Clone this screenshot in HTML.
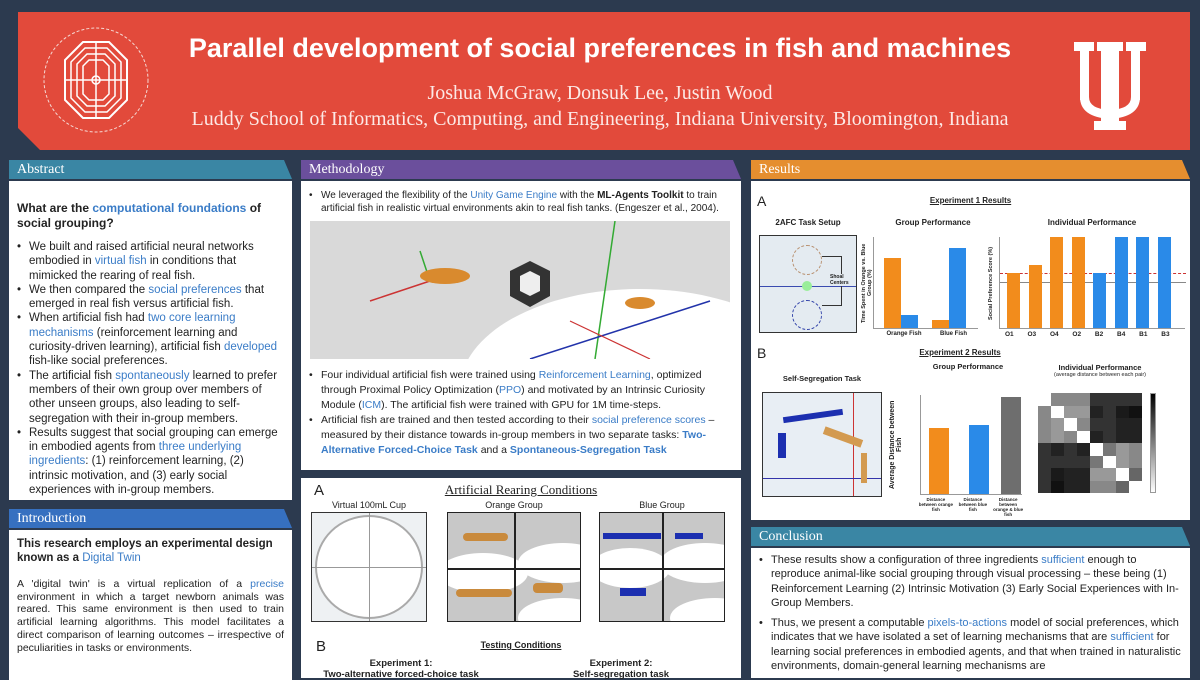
<!DOCTYPE html>
<html><head><meta charset="utf-8">
<style>
*{margin:0;padding:0;box-sizing:border-box}
body{width:1200px;height:675px;overflow:hidden;background:#2c3a4f;font-family:"Liberation Sans",sans-serif;position:relative;color:#222}
.abs{position:absolute}
.hdr{position:absolute;height:19px;color:#fff;font-family:"Liberation Serif",serif;font-size:14px;line-height:19px;padding-left:8px;clip-path:polygon(0 0,calc(100% - 8px) 0,100% 100%,0 100%)}
.box{position:absolute;background:#fff}
.bl{color:#3a7cc7}
ul{list-style:none}
li{position:relative;padding-left:12px}
li:before{content:"•";position:absolute;left:0}
.t{font-size:11.5px;line-height:14.3px}
.bar{position:absolute;bottom:0}
.lbl{position:absolute;font-size:8px;font-weight:bold;text-align:center}
</style></head><body>

<!-- header -->
<div class="abs" style="left:18px;top:12px;width:1172px;height:138px;background:#e24a3b;clip-path:polygon(0 0,100% 0,100% 100%,22px 100%,0 116px)"></div>
<svg class="abs" style="left:38px;top:22px" width="116" height="116" viewBox="0 0 116 116">
<circle cx="58" cy="58" r="52" fill="none" stroke="#f5d9d4" stroke-width="1" stroke-dasharray="3 2"/>
<polygon points="45,20 71,20 89,38 89,78 71,96 45,96 27,78 27,38" fill="none" stroke="#fff" stroke-width="2"/>
<polygon points="47,26 69,26 83,40 83,76 69,90 47,90 33,76 33,40" fill="none" stroke="#fff" stroke-width="1.5"/>
<polygon points="49,32 67,32 77,42 77,74 67,84 49,84 39,74 39,42" fill="none" stroke="#fff" stroke-width="1.5"/>
<polygon points="51,38 65,38 71,44 71,72 65,78 51,78 45,72 45,44" fill="none" stroke="#fff" stroke-width="1.5"/>
<circle cx="58" cy="58" r="4" fill="none" stroke="#fff" stroke-width="1.5"/>
<line x1="58" y1="20" x2="58" y2="96" stroke="#fff" stroke-width="1.5"/>
<line x1="27" y1="58" x2="89" y2="58" stroke="#fff" stroke-width="1.5"/>
</svg>
<div class="abs" style="left:160px;top:33px;width:880px;text-align:center;color:#fff;font-size:27px;font-weight:bold">Parallel development of social preferences in fish and machines</div>
<div class="abs" style="left:160px;top:82px;width:880px;text-align:center;color:#fce9e6;font-family:'Liberation Serif',serif;font-size:20px">Joshua McGraw, Donsuk Lee, Justin Wood</div>
<div class="abs" style="left:150px;top:108px;width:900px;text-align:center;color:#fce9e6;font-family:'Liberation Serif',serif;font-size:20px">Luddy School of Informatics, Computing, and Engineering, Indiana University, Bloomington, Indiana</div>
<svg class="abs" style="left:1072px;top:42px" width="76" height="88" viewBox="0 0 76 88">
<g fill="#fff">
<rect x="2" y="0" width="20" height="9"/><rect x="54" y="0" width="20" height="9"/><rect x="25" y="0" width="26" height="9"/>
<rect x="8" y="0" width="9" height="58"/><rect x="59" y="0" width="9" height="58"/><rect x="29" y="0" width="18" height="88"/>
<path d="M8 55q0 20 30 22q30-2 30-22h-9q0 12-21 13q-21-1-21-13z"/>
<rect x="22" y="79" width="32" height="9"/>
</g></svg>

<!-- Abstract -->
<div class="hdr" style="left:9px;top:160px;width:283px;background:#3a86a4">Abstract</div>
<div class="box" style="left:9px;top:181px;width:283px;height:319px;padding:20px 8px 0 8px">
<div style="font-weight:bold;font-size:12px;line-height:15px">What are the <span class="bl">computational foundations</span> of social grouping?</div>
<ul class="t" style="margin-top:9px">
<li>We built and raised artificial neural networks embodied in <span class="bl">virtual fish</span> in conditions that mimicked the rearing of real fish.</li>
<li>We then compared the <span class="bl">social preferences</span> that emerged in real fish versus artificial fish.</li>
<li>When artificial fish had <span class="bl">two core learning mechanisms</span> (reinforcement learning and curiosity-driven learning), artificial fish <span class="bl">developed</span> fish-like social preferences.</li>
<li>The artificial fish <span class="bl">spontaneously</span> learned to prefer members of their own group over members of other unseen groups, also leading to self-segregation with their in-group members.</li>
<li>Results suggest that social grouping can emerge in embodied agents from <span class="bl">three underlying ingredients</span>: (1) reinforcement learning, (2) intrinsic motivation, and (3) early social experiences with in-group members.</li>
</ul></div>

<!-- Introduction -->
<div class="hdr" style="left:9px;top:509px;width:283px;background:#3670c0">Introduction</div>
<div class="box" style="left:9px;top:530px;width:283px;height:150px;padding:7px 8px">
<div style="font-weight:bold;font-size:11.5px;line-height:14px">This research employs an experimental design known as a <span class="bl" style="font-weight:normal">Digital Twin</span></div>
<div style="font-size:10.5px;line-height:12.7px;margin-top:13px;text-align:justify">A 'digital twin' is a virtual replication of a <span class="bl">precise</span> environment in which a target newborn animals was reared. This same environment is then used to train artificial learning algorithms. This model facilitates a direct comparison of learning outcomes – irrespective of peculiarities in tasks or environments.</div>
</div>

<!-- Methodology -->
<div class="hdr" style="left:301px;top:160px;width:440px;background:#6b4f9c">Methodology</div>
<div class="box" style="left:301px;top:181px;width:440px;height:289px;padding:8px 8px">
<ul style="font-size:10px;line-height:13px"><li>We leveraged the flexibility of the <span class="bl">Unity Game Engine</span> with the <b>ML-Agents Toolkit</b> to train artificial fish in realistic virtual environments akin to real fish tanks. (Engeszer et al., 2004).</li></ul>
<div class="abs" style="left:9px;top:40px;width:420px;height:138px;background:#d9d9d9;overflow:hidden">
<div class="abs" style="left:150px;top:68px;width:360px;height:200px;border-radius:50%;background:#fff"></div>
<svg class="abs" style="left:0;top:0" width="420" height="138">
<line x1="305" y1="0" x2="285" y2="138" stroke="#3a3" stroke-width="1.5"/>
<line x1="220" y1="138" x2="400" y2="80" stroke="#2233aa" stroke-width="1.5"/>
<line x1="260" y1="100" x2="340" y2="138" stroke="#c33" stroke-width="1.2"/>
<line x1="110" y1="30" x2="120" y2="60" stroke="#3a3" stroke-width="1.5"/>
<line x1="120" y1="60" x2="60" y2="80" stroke="#c33" stroke-width="1.5"/>
<ellipse cx="135" cy="55" rx="25" ry="8" fill="#d98a2e"/>
<ellipse cx="330" cy="82" rx="15" ry="6" fill="#d98a2e"/>
<polygon points="200,50 220,40 240,50 240,75 220,86 200,75" fill="#333"/>
<polygon points="210,55 220,50 230,55 230,70 220,75 210,70" fill="#eee"/>
</svg></div>
<ul style="font-size:10.5px;line-height:15px;position:absolute;top:187px;left:8px;right:8px">
<li>Four individual artificial fish were trained using <span class="bl">Reinforcement Learning</span>, optimized through Proximal Policy Optimization (<span class="bl">PPO</span>) and motivated by an Intrinsic Curiosity Module (<span class="bl">ICM</span>). The artificial fish were trained with GPU for 1M time-steps.</li>
<li>Artificial fish are trained and then tested according to their <span class="bl">social preference scores</span> – measured by their distance towards in-group members in two separate tasks: <b class="bl">Two-Alternative Forced-Choice Task</b> and a <b class="bl">Spontaneous-Segregation Task</b></li>
</ul></div>

<!-- figure box -->
<div class="box" style="left:301px;top:478px;width:440px;height:200px">
<div class="abs" style="left:13px;top:4px;font-size:15px">A</div>
<div class="abs" style="left:0;top:4px;width:440px;text-align:center;font-family:'Liberation Serif',serif;font-size:13px;text-decoration:underline">Artificial Rearing Conditions</div>
<div class="abs" style="left:10px;top:22px;width:116px;text-align:center;font-size:9px">Virtual 100mL Cup</div>
<div class="abs" style="left:10px;top:34px;width:116px;height:110px;border:1px solid #333;background:#eef1f3">
<div class="abs" style="left:3px;top:2px;width:108px;height:104px;border-radius:50%;border:2px solid #aaa;background:#fff"></div>
<div class="abs" style="left:57px;top:0;width:1px;height:108px;background:#999"></div>
<div class="abs" style="left:0;top:54px;width:114px;height:1px;background:#999"></div></div>
<div class="abs" style="left:146px;top:22px;width:134px;text-align:center;font-size:9px">Orange Group</div>
<div class="abs" style="left:146px;top:34px;width:134px;height:110px;border:1px solid #222;background:#c8c8c8;overflow:hidden">
<div class="abs" style="left:-10px;top:40px;width:90px;height:40px;border-radius:50%;background:#fff"></div>
<div class="abs" style="left:70px;top:30px;width:90px;height:40px;border-radius:50%;background:#fff"></div>
<div class="abs" style="left:70px;top:85px;width:90px;height:40px;border-radius:50%;background:#fff"></div>
<div class="abs" style="left:15px;top:20px;width:45px;height:8px;background:#c98a3c;border-radius:4px"></div>
<div class="abs" style="left:8px;top:76px;width:56px;height:8px;background:#c98a3c;border-radius:4px"></div>
<div class="abs" style="left:85px;top:70px;width:30px;height:10px;background:#c98a3c;border-radius:4px"></div>
<div class="abs" style="left:66px;top:0;width:2px;height:110px;background:#222"></div>
<div class="abs" style="left:0;top:55px;width:134px;height:2px;background:#222"></div></div>
<div class="abs" style="left:298px;top:22px;width:126px;text-align:center;font-size:9px">Blue Group</div>
<div class="abs" style="left:298px;top:34px;width:126px;height:110px;border:1px solid #222;background:#c8c8c8;overflow:hidden">
<div class="abs" style="left:-10px;top:35px;width:80px;height:40px;border-radius:50%;background:#fff"></div>
<div class="abs" style="left:60px;top:30px;width:90px;height:40px;border-radius:50%;background:#fff"></div>
<div class="abs" style="left:70px;top:85px;width:90px;height:40px;border-radius:50%;background:#fff"></div>
<div class="abs" style="left:3px;top:20px;width:58px;height:6px;background:#1c2fb0"></div>
<div class="abs" style="left:75px;top:20px;width:28px;height:6px;background:#1c2fb0"></div>
<div class="abs" style="left:20px;top:75px;width:26px;height:8px;background:#1c2fb0"></div>
<div class="abs" style="left:62px;top:0;width:2px;height:110px;background:#222"></div>
<div class="abs" style="left:0;top:55px;width:126px;height:2px;background:#222"></div></div>
<div class="abs" style="left:15px;top:160px;font-size:15px">B</div>
<div class="abs" style="left:0;top:162px;width:440px;text-align:center;font-size:9px;font-weight:bold;text-decoration:underline">Testing Conditions</div>
<div class="abs" style="left:20px;top:180px;width:160px;text-align:center;font-size:9.5px;font-weight:bold;line-height:11px">Experiment 1:<br>Two-alternative forced-choice task</div>
<div class="abs" style="left:240px;top:180px;width:160px;text-align:center;font-size:9.5px;font-weight:bold;line-height:11px">Experiment 2:<br>Self-segregation task</div>
</div>

<!-- Results -->
<div class="hdr" style="left:751px;top:160px;width:439px;background:#e58e2f">Results</div>
<div class="box" style="left:751px;top:181px;width:439px;height:339px">
<div class="abs" style="left:6px;top:12px;font-size:14px">A</div>
<div class="abs" style="left:0;top:15px;width:439px;text-align:center;font-size:8px;font-weight:bold;text-decoration:underline">Experiment 1 Results</div>
<div class="abs" style="left:8px;top:37px;width:98px;text-align:center;font-size:8px;font-weight:bold">2AFC Task Setup</div>
<div class="abs" style="left:8px;top:54px;width:98px;height:98px;border:1px solid #333;background:#e4ebf1">
<div class="abs" style="left:0;top:50px;width:96px;height:1px;background:#3a4bb0"></div>
<div class="abs" style="left:32px;top:9px;width:30px;height:30px;border:1px dashed #b89070;border-radius:50%"></div>
<div class="abs" style="left:32px;top:64px;width:30px;height:30px;border:1px dashed #3344aa;border-radius:50%"></div>
<div class="abs" style="left:42px;top:45px;width:10px;height:10px;border-radius:50%;background:#9e9"></div>
<div class="abs" style="left:62px;top:20px;width:20px;height:50px;border:1px solid #333;border-left:none"></div>
<div class="abs" style="left:70px;top:38px;font-size:5px;background:#e4ebf1;font-weight:bold">Shoal<br>Centers</div></div>
<div class="abs" style="left:122px;top:37px;width:120px;text-align:center;font-size:8px;font-weight:bold">Group Performance</div>
<div class="abs" style="left:110px;top:56px;width:8px;height:92px;font-size:5.5px;writing-mode:vertical-rl;transform:rotate(180deg);font-weight:bold;text-align:center">Time Spent in Orange vs. Blue Group (%)</div>
<div class="abs" style="left:122px;top:56px;width:105px;height:92px;border-left:1px solid #999;border-bottom:1px solid #999">
<div class="bar" style="left:10px;width:17px;height:70px;background:#f28c1c"></div>
<div class="bar" style="left:27px;width:17px;height:13px;background:#2a8ae8"></div>
<div class="bar" style="left:58px;width:17px;height:8px;background:#f28c1c"></div>
<div class="bar" style="left:75px;width:17px;height:80px;background:#2a8ae8"></div></div>
<div class="lbl" style="left:128px;top:150px;width:50px;font-size:6px">Orange Fish</div>
<div class="lbl" style="left:180px;top:150px;width:45px;font-size:6px">Blue Fish</div>
<div class="abs" style="left:248px;top:37px;width:186px;text-align:center;font-size:8px;font-weight:bold">Individual Performance</div>
<div class="abs" style="left:237px;top:56px;width:8px;height:92px;font-size:5.5px;writing-mode:vertical-rl;transform:rotate(180deg);font-weight:bold;text-align:center">Social Preference Score (%)</div>
<div class="abs" style="left:248px;top:56px;width:186px;height:92px;border-left:1px solid #999;border-bottom:1px solid #999">
<div class="abs" style="left:0;top:36px;width:186px;border-top:1px dashed #c33"></div>
<div class="abs" style="left:0;top:45px;width:186px;border-top:1px solid #888"></div>
<div class="bar" style="left:7px;width:13px;height:55px;background:#f28c1c"></div>
<div class="bar" style="left:29px;width:13px;height:63px;background:#f28c1c"></div>
<div class="bar" style="left:50px;width:13px;height:91px;background:#f28c1c"></div>
<div class="bar" style="left:72px;width:13px;height:91px;background:#f28c1c"></div>
<div class="bar" style="left:93px;width:13px;height:55px;background:#2a8ae8"></div>
<div class="bar" style="left:115px;width:13px;height:91px;background:#2a8ae8"></div>
<div class="bar" style="left:136px;width:13px;height:91px;background:#2a8ae8"></div>
<div class="bar" style="left:158px;width:13px;height:91px;background:#2a8ae8"></div></div>
<div class="abs" style="left:254px;top:150px;width:190px;font-size:6.5px;font-weight:bold;word-spacing:12px">O1 O3 O4 O2 B2 B4 B1 B3</div>
<div class="abs" style="left:6px;top:164px;font-size:14px">B</div>
<div class="abs" style="left:0;top:167px;width:418px;text-align:center;font-size:8px;font-weight:bold;text-decoration:underline">Experiment 2 Results</div>
<div class="abs" style="left:162px;top:181px;width:110px;text-align:center;font-size:7.5px;font-weight:bold">Group Performance</div>
<div class="abs" style="left:11px;top:193px;width:120px;text-align:center;font-size:7.5px;font-weight:bold">Self-Segregation Task</div>
<div class="abs" style="left:11px;top:211px;width:120px;height:105px;border:1px solid #333;background:#e8eef4">
<div class="abs" style="left:90px;top:0;width:1px;height:103px;background:#c33"></div>
<div class="abs" style="left:0;top:85px;width:118px;height:1px;background:#33a"></div>
<div class="abs" style="left:20px;top:20px;width:60px;height:6px;background:#1c2fb0;transform:rotate(-8deg)"></div>
<div class="abs" style="left:15px;top:40px;width:8px;height:25px;background:#1c2fb0"></div>
<div class="abs" style="left:60px;top:40px;width:40px;height:8px;background:#d39a50;transform:rotate(20deg)"></div>
<div class="abs" style="left:98px;top:60px;width:6px;height:30px;background:#d39a50"></div></div>
<div class="abs" style="left:169px;top:214px;width:102px;height:100px;border-left:1px solid #999;border-bottom:1px solid #999">
<div class="bar" style="left:8px;width:20px;height:66px;background:#f28c1c"></div>
<div class="bar" style="left:48px;width:20px;height:69px;background:#2a8ae8"></div>
<div class="bar" style="left:80px;width:20px;height:97px;background:#6e6e6e"></div></div>
<div class="abs" style="left:138px;top:214px;width:10px;height:100px;font-size:7px;font-weight:bold;writing-mode:vertical-rl;transform:rotate(180deg);text-align:center">Average Distance between Fish</div>
<div class="abs" style="left:165px;top:316px;width:110px;font-size:4.5px;font-weight:bold;display:flex;justify-content:space-between;text-align:center"><span>Distance<br>between orange fish</span><span>Distance<br>between blue fish</span><span>Distance<br>between<br>orange &amp; blue fish</span></div>
<div class="abs" style="left:284px;top:182px;width:130px;text-align:center;font-size:7.5px;font-weight:bold">Individual Performance</div>
<div class="abs" style="left:284px;top:191px;width:130px;text-align:center;font-size:5.5px">(average distance between each pair)</div>
<div class="abs" style="left:287px;top:212px;width:104px;height:100px;display:grid;grid-template-columns:repeat(8,1fr);grid-template-rows:repeat(8,1fr)">
<i style="background:#fff"></i><i style="background:#888"></i><i style="background:#888"></i><i style="background:#888"></i><i style="background:#333"></i><i style="background:#333"></i><i style="background:#333"></i><i style="background:#333"></i>
<i style="background:#888"></i><i style="background:#fff"></i><i style="background:#999"></i><i style="background:#999"></i><i style="background:#222"></i><i style="background:#333"></i><i style="background:#1a1a1a"></i><i style="background:#111"></i>
<i style="background:#888"></i><i style="background:#999"></i><i style="background:#fff"></i><i style="background:#888"></i><i style="background:#333"></i><i style="background:#333"></i><i style="background:#222"></i><i style="background:#222"></i>
<i style="background:#888"></i><i style="background:#999"></i><i style="background:#888"></i><i style="background:#fff"></i><i style="background:#222"></i><i style="background:#333"></i><i style="background:#222"></i><i style="background:#222"></i>
<i style="background:#333"></i><i style="background:#222"></i><i style="background:#333"></i><i style="background:#222"></i><i style="background:#fff"></i><i style="background:#777"></i><i style="background:#999"></i><i style="background:#888"></i>
<i style="background:#333"></i><i style="background:#333"></i><i style="background:#333"></i><i style="background:#333"></i><i style="background:#777"></i><i style="background:#fff"></i><i style="background:#999"></i><i style="background:#888"></i>
<i style="background:#333"></i><i style="background:#1a1a1a"></i><i style="background:#222"></i><i style="background:#222"></i><i style="background:#999"></i><i style="background:#999"></i><i style="background:#fff"></i><i style="background:#666"></i>
<i style="background:#333"></i><i style="background:#111"></i><i style="background:#222"></i><i style="background:#222"></i><i style="background:#888"></i><i style="background:#888"></i><i style="background:#666"></i><i style="background:#fff"></i>
</div>
<div class="abs" style="left:399px;top:212px;width:6px;height:100px;background:linear-gradient(#000,#fff);border:1px solid #999"></div>
</div>

<!-- Conclusion -->
<div class="hdr" style="left:751px;top:527px;width:439px;background:#3a86a4">Conclusion</div>
<div class="box" style="left:751px;top:548px;width:439px;height:130px;padding:5px 8px">
<ul style="font-size:11px;line-height:14.3px">
<li>These results show a configuration of three ingredients <span class="bl">sufficient</span> enough to reproduce animal-like social grouping through visual processing – these being (1) Reinforcement Learning (2) Intrinsic Motivation (3) Early Social Experiences with In-Group Members.</li>
<li style="margin-top:6px">Thus, we present a computable <span class="bl">pixels-to-actions</span> model of social preferences, which indicates that we have isolated a set of learning mechanisms that are <span class="bl">sufficient</span> for learning social preferences in embodied agents, and that when trained in naturalistic environments, domain-general learning mechanisms are</li>
</ul></div>
</body></html>
